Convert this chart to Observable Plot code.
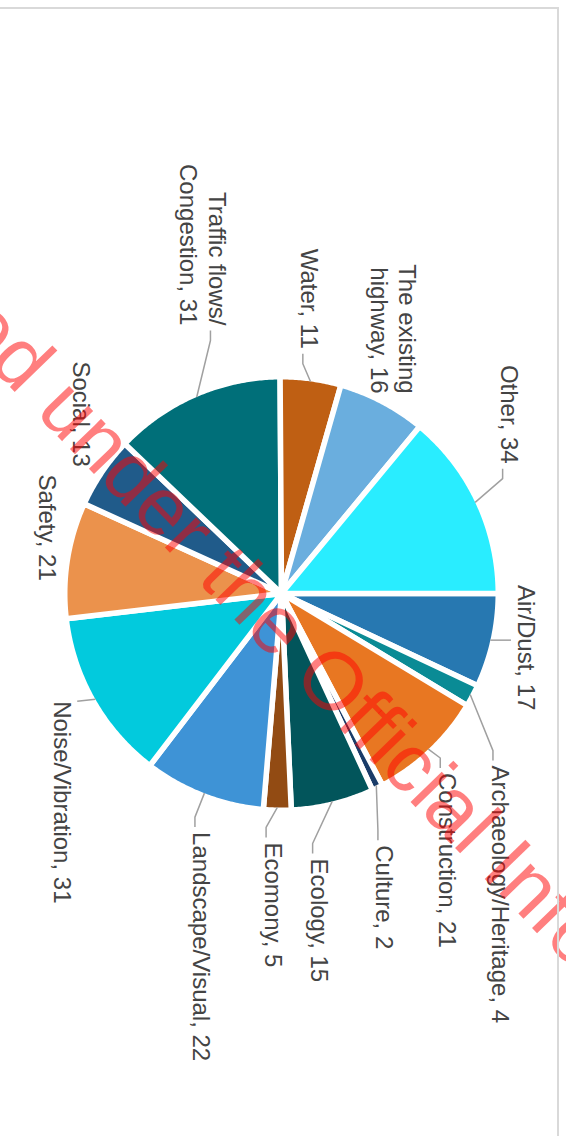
<!DOCTYPE html>
<html><head><meta charset="utf-8">
<script src="https://cdn.jsdelivr.net/npm/d3@7"></script>
<script src="https://cdn.jsdelivr.net/npm/@observablehq/plot@0.6"></script>
<style>
html,body{margin:0;padding:0;background:#fff;overflow:hidden;width:566px;height:1136px;}
#page{position:relative;width:566px;height:1136px;overflow:hidden;}
#chart{position:absolute;left:0;top:0;width:1136px;height:566px;transform-origin:0 0;transform:translate(566px,0) rotate(90deg);}
#chart svg{display:block;}
#frame{position:absolute;left:-5px;top:7px;width:562px;height:1140px;border-top:2px solid #d9d9d9;border-right:2px solid #d9d9d9;pointer-events:none;}
</style></head>
<body><div id="page"><div id="chart"></div><div id="frame"></div></div>
<script>
// ---- data ----
const categories = ["Air/Dust","Archaeology/Heritage","Construction","Culture","Ecology","Ecomony","Landscape/Visual","Noise/Vibration","Safety","Social","Traffic flows/ Congestion","Water","The existing highway","Other"];
const counts = [17,4,21,2,15,5,22,31,21,13,31,11,16,34];
const colors = ["#2778b1","#0a8b95","#e87722","#1a3c69","#02555b","#924b13","#3e93d6","#02cadd","#eb924c","#205b8a","#006f79","#bf5f13","#6aaede","#29edff"];
const watermarkText = "Released under the Official Information Act";

// ---- layout (chart drawn in its original landscape frame, then turned 90deg) ----
const W = 1136, H = 566;
const CX = 593, CY = 284;
const R_VIS = 214, STROKE = 5.5;
const R = R_VIS + STROKE / 2;
const R_LABEL = 244;
const FONT = 24, LH = 1.19;
const FAMILY = "'Liberation Sans', Arial, Helvetica, sans-serif";
// label offsets from the radial position (result of the original's collision avoidance)
const labelNudge = {
  "Air/Dust":[1,-8], "Archaeology/Heritage":[57,-4], "Construction":[2,1], "Culture":[33,4],
  "Ecology":[28,19], "Ecomony":[5,3], "Landscape/Visual":[11,-9], "Noise/Vibration":[-13,6],
  "Safety":[25,-8], "Social":[10,-3], "Traffic flows/ Congestion":[-44,-19], "Water":[-3,4],
  "The existing highway":[16,1], "Other":[-26,-8]
};
const watermarkPos = {x: 95, y: -56, rotate: -44, size: 82};

// ---- geometry from the data ----
const arcs = d3.pie().sort(null).value(d => d)(counts);

const slicePts = [];
arcs.forEach((a, i) => {
  const key = categories[i];
  slicePts.push({key, x: 0, y: 0});
  const n = Math.max(2, Math.ceil((a.endAngle - a.startAngle) / (Math.PI / 360)));
  for (let k = 0; k <= n; k++) {
    const t = a.startAngle + (a.endAngle - a.startAngle) * k / n;
    slicePts.push({key, x: R * Math.sin(t), y: -R * Math.cos(t)});
  }
});

const ctx = document.createElement("canvas").getContext("2d");
ctx.font = `${FONT}px ${FAMILY}`;
const lh = FONT * LH;

const labels = [];
const connPts = [];
arcs.forEach((a, i) => {
  const name = categories[i];
  const sp = name.lastIndexOf(" ");
  const text = sp > 0 ? name.slice(0, sp) + "\n" + name.slice(sp + 1) + ", " + counts[i]
                      : name + ", " + counts[i];
  const mid = (a.startAngle + a.endAngle) / 2;
  const s = Math.sin(mid), c = Math.cos(mid);
  const anchor = (c > 0 && Math.abs(s) < 0.25) ? "middle" : s > 0 ? "start" : "end";
  const [nx, ny] = labelNudge[name] || [0, 0];
  const x = R_LABEL * s + nx, y = -R_LABEL * c + ny;
  labels.push({key: name, text, x, y, anchor});

  // box of the label
  const lines = text.split("\n");
  const w = Math.max(...lines.map(l => ctx.measureText(l).width));
  const nL = lines.length;
  const baselines = lines.map((_, k) => y + (k - (nL - 1) / 2) * lh + 0.32 * FONT);
  const x0 = anchor === "start" ? x : anchor === "end" ? x - w : x - w / 2;
  const x1 = x0 + w;
  const top = baselines[0] - 17.5, bottom = baselines[nL - 1] + 5;
  const E = {x: R_VIS * s, y: -R_VIS * c};
  const ddx = Math.max(x0 - E.x, 0, E.x - x1), ddy = Math.max(top - E.y, 0, E.y - bottom);
  if (Math.hypot(ddx, ddy) < 14) return;
  if (E.x >= x0 - 12 && E.x <= x1 + 12) {
    const tx = Math.min(Math.max(E.x, x0), x1);
    const ty = E.y < top ? top - 4 : bottom + 4;
    connPts.push({key: name, x: E.x, y: E.y}, {key: name, x: tx, y: ty});
  } else {
    const left = E.x < x0;
    const sx = left ? x0 - 5 : x1 + 5;
    const bl = baselines.reduce((b, v) => Math.abs(v - E.y) < Math.abs(b - E.y) ? v : b);
    connPts.push({key: name, x: E.x, y: E.y},
                 {key: name, x: sx + (left ? -10 : 10), y: bl},
                 {key: name, x: sx, y: bl});
  }
});

const textOpts = a => ({x: "x", y: "y", text: "text", textAnchor: a, lineAnchor: "middle",
  fontSize: FONT, lineHeight: LH, fill: "#444", fontFamily: FAMILY});

const chart = Plot.plot({
  width: W, height: H, margin: 0,
  x: {domain: [-CX, W - CX], range: [0, W], axis: null},
  y: {domain: [-CY, H - CY], range: [0, H], axis: null},
  color: {domain: categories, range: colors},
  style: {fontFamily: FAMILY, background: "white"},
  marks: [
    Plot.line(slicePts, {x: "x", y: "y", z: "key", fill: "key", stroke: "white",
      strokeWidth: STROKE, curve: "linear-closed", strokeLinejoin: "round"}),
    Plot.line(connPts, {x: "x", y: "y", z: "key", stroke: "#a0a0a0", strokeWidth: 1.5,
      strokeLinejoin: "miter", strokeLinecap: "butt"}),
    Plot.text(labels.filter(d => d.anchor === "start"), textOpts("start")),
    Plot.text(labels.filter(d => d.anchor === "end"), textOpts("end")),
    Plot.text(labels.filter(d => d.anchor === "middle"), textOpts("middle")),
    Plot.text([{text: watermarkText, x: watermarkPos.x, y: watermarkPos.y}], {
      x: "x", y: "y", text: "text", rotate: watermarkPos.rotate, fontSize: watermarkPos.size,
      fill: "#ff0000", fillOpacity: 0.5, textAnchor: "middle", lineAnchor: "middle", fontFamily: FAMILY})
  ]
});
document.getElementById("chart").appendChild(chart);
</script></body></html>
